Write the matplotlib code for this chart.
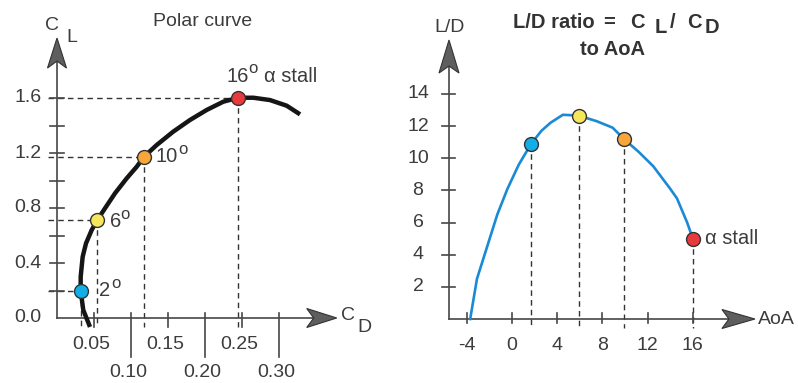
import matplotlib
matplotlib.use('Agg')
import numpy as np
import matplotlib.pyplot as plt
from matplotlib.patches import Polygon

plt.rcParams['font.family'] = ['Liberation Sans', 'DejaVu Sans']

# polar curve (C_D, C_L)
polar_cd = [0.0446, 0.0355, 0.032, 0.032, 0.0347, 0.0392, 0.0469, 0.0545, 0.0649,
            0.0784, 0.0942, 0.1077, 0.1176, 0.1347, 0.157, 0.1797, 0.2023, 0.2247,
            0.245, 0.2653, 0.2878, 0.3104, 0.3284]
polar_cl = [-0.065, 0.058, 0.199, 0.300, 0.446, 0.543, 0.640, 0.713, 0.798,
            0.907, 1.016, 1.100, 1.173, 1.258, 1.355, 1.440, 1.513, 1.573,
            1.602, 1.602, 1.585, 1.544, 1.481]

# marked angles of attack
marked_aoa = ['2', '6', '10', '16']
marked_cd = [0.032, 0.0545, 0.1176, 0.245]
marked_cl = [0.199, 0.713, 1.173, 1.602]
marker_colors = ['#14aee6', '#f6e65a', '#f7a63a', '#e63a3c']

# L/D ratio vs AoA
ld_aoa = [-3.7, -3.1, -2.2, -1.3, -0.4, 0.6, 1.7, 2.6, 3.4, 4.5, 5.9, 7.5,
          8.9, 9.9, 11.2, 12.5, 14.0, 14.6, 15.5, 16.0]
ld_ratio = [0.0, 2.5, 4.5, 6.5, 8.1, 9.6, 10.9, 11.7, 12.2, 12.7, 12.65, 12.3,
            11.9, 11.2, 10.4, 9.5, 8.1, 7.5, 6.0, 5.0]
marked_ld_aoa = [1.7, 5.9, 9.9, 16.0]
marked_ld = [10.9, 12.6, 11.2, 5.0]

cl_ticks = [0.2, 0.4, 0.6, 0.8, 1.0, 1.2, 1.4, 1.6]
cl_labels = ['0.0', '0.4', '0.8', '1.2', '1.6']
cd_ticks = [0.05, 0.10, 0.15, 0.20, 0.25, 0.30]
ld_ticks = [2, 4, 6, 8, 10, 12, 14]
aoa_ticks = [-4, 0, 4, 8, 12, 16]

TXT = '#3c3c3c'
AX = '#474747'
W, H = 798, 383


def arrow_head(ax, tip, direction, length=30, width=19, notch=7):
    t = ax.transData.transform(tip)
    d = np.array(direction, float)
    n = np.array([-d[1], d[0]])
    back = t - d * length
    pts = [t, back + n * width / 2, t - d * (length - notch), back - n * width / 2]
    pts = ax.transData.inverted().transform(np.array(pts))
    ax.add_patch(Polygon(pts, closed=True, fc='#5e5e5e', ec='#333333', lw=0.8, zorder=5))


def px_label(ax, x, y, txt, dx, dy, size=14.5, **kw):
    # text offset from a data point, offsets in pixels (dy downwards)
    ax.annotate(txt, (x, y), xytext=(dx * 0.72, -dy * 0.72), textcoords='offset points',
                ha=kw.pop('ha', 'left'), va=kw.pop('va', 'center'), fontsize=size,
                color=TXT, **kw)


fig = plt.figure(figsize=(W / 100, H / 100), dpi=100)
ax1 = fig.add_axes([0, 0, 400 / W, 1])
ax2 = fig.add_axes([400 / W, 0, 398 / W, 1])
for ax in (ax1, ax2):
    ax.axis('off')

# ---------------- left: polar curve ----------------
ax1.set_xlim(-57 / 740, 343 / 740)
ax1.set_ylim(-65 / 137.5, 318 / 137.5)

dash = dict(color='#333333', lw=1.0, ls=(0, (4, 3)), zorder=2)
for cd, cl in zip(marked_cd, marked_cl):
    ax1.plot([-0.012, cd], [cl, cl], **dash)
    ax1.plot([cd, cd], [cl, -0.065], **dash)

ax1.plot([0, 0], [0, 1.95], color=AX, lw=1.2, zorder=3)
ax1.plot([0, 0.36], [0, 0], color=AX, lw=1.2, zorder=3)
arrow_head(ax1, (0, 2.036), (0, 1))
arrow_head(ax1, (0.378, 0), (1, 0))

for v in cl_ticks:
    ax1.plot([-0.0095, 0.0095], [v, v], color=AX, lw=1.2, zorder=3)
for v in cl_labels:
    ax1.text(-0.021, float(v), v, ha='right', va='center', fontsize=14, color=TXT)
for i, v in enumerate(cd_ticks):
    low = -0.284 if i % 2 else -0.065
    ax1.plot([v, v], [0.036, low], color=AX, lw=1.2, zorder=3)
    ylab = -0.395 if i % 2 else -0.19
    ax1.text(v - 0.004, ylab, '%.2f' % v, ha='center', va='center', fontsize=14, color=TXT)

ax1.plot(polar_cd, polar_cl, color='#151515', lw=3.2, solid_capstyle='butt',
         solid_joinstyle='round', zorder=4)
for cd, cl, c in zip(marked_cd, marked_cl, marker_colors):
    ax1.plot(cd, cl, 'o', ms=10, mfc=c, mec='#333333', mew=1.0, zorder=6)

# angle labels
offs = [(18, 0, 31, -7), (13, 2, 23, -5), (11, 0, 34, -7), (-12, -21, 10, -29)]
for a, cd, cl, (dx, dy, ox, oy) in zip(marked_aoa, marked_cd, marked_cl, offs):
    px_label(ax1, cd, cl, a, dx, dy)
    px_label(ax1, cd, cl, 'o', ox, oy, size=12)
px_label(ax1, marked_cd[3], marked_cl[3], '\u03b1 stall', 26, -21)

fig.text(203 / W, 1 - 21 / H, 'Polar curve', ha='center', va='center', fontsize=14, color=TXT)
fig.text(52 / W, 1 - 25 / H, 'C', ha='center', va='center', fontsize=14, color=TXT)
fig.text(72 / W, 1 - 37 / H, 'L', ha='center', va='center', fontsize=14, color=TXT)
fig.text(348 / W, 1 - 315 / H, 'C', ha='center', va='center', fontsize=14, color=TXT)
fig.text(364 / W, 1 - 328 / H, 'D', ha='center', va='center', fontsize=14, color=TXT)

# ---------------- right: L/D vs AoA ----------------
ax2.set_xlim(-112 / 11.3, 286 / 11.3)
ax2.set_ylim(-64 / 16.08, 319 / 16.08)
yx = -5.575

for a, ld in zip(marked_ld_aoa, marked_ld):
    ax2.plot([a, a], [ld, -0.56], **dash)

ax2.plot([yx, yx], [0, 16.0], color=AX, lw=1.2, zorder=3)
ax2.plot([yx, 20.0], [0, 0], color=AX, lw=1.2, zorder=3)
arrow_head(ax2, (yx, 17.35), (0, 1), length=33, width=20)
arrow_head(ax2, (21.5, 0), (1, 0), length=33, width=19)

for v in ld_ticks:
    ax2.plot([-6.19, -5.04], [v, v], color=AX, lw=1.2, zorder=3)
    ax2.text(-8.32, v, str(v), ha='center', va='center', fontsize=14, color=TXT)
for v in aoa_ticks:
    ax2.plot([v, v], [0.37, -0.25], color=AX, lw=1.2, zorder=3)
    ax2.text(v, -1.62, str(v), ha='center', va='center', fontsize=14, color=TXT)

ax2.plot(ld_aoa, ld_ratio, color='#1a8ad6', lw=1.9, solid_joinstyle='round', zorder=4)
for a, ld, c in zip(marked_ld_aoa, marked_ld, marker_colors):
    ax2.plot(a, ld, 'o', ms=10, mfc=c, mec='#333333', mew=1.0, zorder=6)
px_label(ax2, marked_ld_aoa[3], marked_ld[3], '\u03b1 stall', 12, 0)

ax2.text(21.77, 0, 'AoA', ha='left', va='center', fontsize=14, color=TXT)
fig.text(450 / W, 1 - 28 / H, 'L/D', ha='center', va='center', fontsize=14, color=TXT)

# title pieces with C_L / C_D drawn as in the original (large, dropped letters)
tkw = dict(fontsize=14.5, fontweight='bold', color='#333333', va='baseline', ha='left')
fig.text(513 / W, 1 - 28 / H, 'L/D ratio', **tkw)
fig.text(603 / W, 1 - 28 / H, '=', **tkw)
fig.text(630 / W, 1 - 28 / H, 'C', **tkw)
fig.text(655 / W, 1 - 33 / H, 'L', **tkw)
fig.text(670 / W, 1 - 28 / H, '/', **tkw)
fig.text(687 / W, 1 - 28 / H, 'C', **tkw)
fig.text(705 / W, 1 - 33 / H, 'D', **tkw)
fig.text(613 / W, 1 - 55 / H, 'to AoA', fontsize=14.5, fontweight='bold', color='#333333',
         va='baseline', ha='center')

fig.savefig('out.png', dpi=100)
